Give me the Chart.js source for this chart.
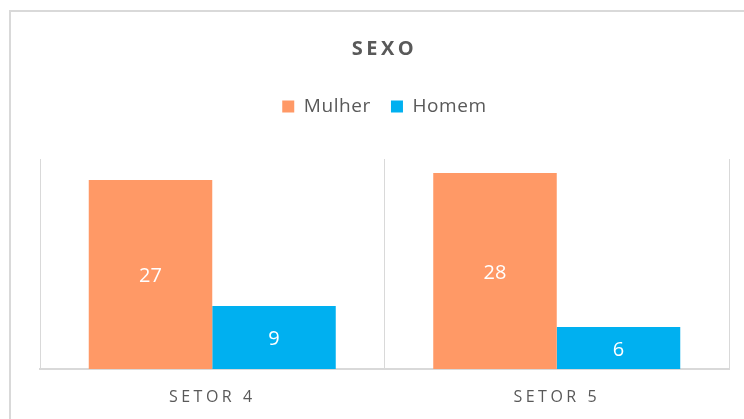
<!DOCTYPE html>
<html>
<head>
<meta charset="utf-8">
<script src="https://cdn.jsdelivr.net/npm/chart.js@4.4.1/dist/chart.umd.min.js"></script>
<style>
  html, body { margin: 0; padding: 0; background: #fff; overflow: hidden; }
  #frame { position: absolute; left: 9px; top: 10px; width: 800px; height: 500px; border: 2px solid #d9d9d9; }
  #wrap { position: absolute; left: 0; top: 0; width: 764px; height: 419px; }
</style>
</head>
<body>
<div id="frame"></div>
<div id="wrap"><canvas id="sexo-canvas"></canvas></div>
<script>
var setores = ["SETOR 4", "SETOR 5"]
var mulher = [27, 28]
var homem = [9, 6]

var grey = '#595959'

// letter spacing for title, legend and axis labels (Chart.js has no option for it)
function spaced(obj, fn, sp, ctx) {
    if (!obj || obj['_sp_' + fn]) return
    var orig = obj[fn]
    obj[fn] = function() {
        ctx.save()
        ctx.letterSpacing = sp
        var r = orig.apply(this, arguments)
        ctx.restore()
        return r
    }
    obj['_sp_' + fn] = true
}

var spacing = {
    id: 'spacing',
    beforeDraw: function(chart) {
        spaced(chart.titleBlock, 'draw', '3.5px', chart.ctx)
        spaced(chart.scales.x, 'drawLabels', '3.5px', chart.ctx)
        spaced(chart.legend, 'draw', '0.6px', chart.ctx)
    }
}

// extra room under the legend
var legendGap = {
    id: 'legendGap',
    beforeInit: function(chart) {
        var fit = chart.legend.fit
        chart.legend.fit = function() {
            chart.ctx.save()
            chart.ctx.letterSpacing = '0.6px'
            fit.bind(chart.legend)()
            chart.ctx.restore()
            this.height += 33
        }
    }
}

var valueLabels = {
    id: 'valueLabels',
    afterDatasetsDraw: function(chart) {
        var ctx = chart.ctx
        ctx.save()
        ctx.fillStyle = '#fff'
        ctx.font = '20px "Open Sans"'
        ctx.textAlign = 'center'
        ctx.textBaseline = 'middle'
        chart.data.datasets.forEach(function(ds, i) {
            chart.getDatasetMeta(i).data.forEach(function(bar, j) {
                ctx.fillText(ds.data[j], bar.x, (bar.y + bar.base) / 2 + 2)
            })
        })
        ctx.restore()
    }
}

document.addEventListener("DOMContentLoaded", function() {
    var ctx = document.getElementById("sexo-canvas").getContext('2d')
    new Chart(ctx, {
        type: 'bar',
        data: {
            labels: setores,
            datasets: [{
                label: 'Mulher',
                data: mulher,
                backgroundColor: '#ff9966'
            }, {
                label: 'Homem',
                data: homem,
                backgroundColor: '#00b0f0'
            }]
        },
        options: {
            responsive: true,
            maintainAspectRatio: false,
            animation: false,
            categoryPercentage: 0.717,
            barPercentage: 1,
            layout: { padding: { left: 40, right: 35, top: 0, bottom: 0 } },
            plugins: {
                title: {
                    display: true,
                    text: 'SEXO',
                    color: grey,
                    font: { family: '"Open Sans"', size: 20, weight: 'bold' },
                    padding: { top: 37, bottom: 16 }
                },
                legend: {
                    position: 'top',
                    labels: {
                        color: grey,
                        font: { family: '"Open Sans"', size: 19 },
                        boxWidth: 12,
                        boxHeight: 12,
                        padding: 20
                    }
                },
                tooltip: { enabled: false }
            },
            scales: {
                x: {
                    grid: { color: '#d9d9d9', lineWidth: 1, drawTicks: false },
                    border: { color: '#d9d9d9', width: 2 },
                    ticks: {
                        color: grey,
                        font: { family: '"Open Sans"', size: 16 },
                        padding: 19
                    },
                    afterFit: function(scale) { scale.height = 50 }
                },
                y: {
                    display: false,
                    min: 0,
                    max: 30
                }
            }
        },
        plugins: [spacing, legendGap, valueLabels]
    })
})
</script>
</body>
</html>
